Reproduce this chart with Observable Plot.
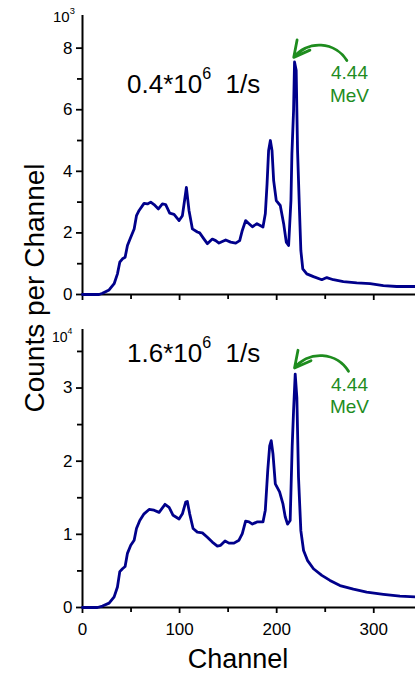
<!DOCTYPE html>
<html><head><meta charset="utf-8">
<script src="https://cdn.jsdelivr.net/npm/d3@7"></script>
<script src="https://cdn.jsdelivr.net/npm/@observablehq/plot@0.6"></script>
<style>
body{margin:0;background:#fff;}
#chart{position:relative;width:415px;height:674px;overflow:hidden;font-family:"Liberation Sans",Arial,sans-serif;}
#chart svg{display:block;}
#overlay{position:absolute;left:0;top:0;pointer-events:none;}
</style></head>
<body><div id="chart"></div>
<script>
// Top panel: 0.4*10^6 1/s
const channelsTop = [0,17,20.6,27.4,32.6,36,38.4,41.2,43.9,46.3,49.7,53.2,55.6,58.3,63.4,66.9,70.3,73.7,78.2,82.3,85.7,89.8,94.3,99.5,102.9,105.6,107,109.7,113.2,118.3,120.7,125.2,128.6,133.7,137.2,140.6,147.5,152.6,157.8,161.9,164.6,168,171.5,175,179.7,185.9,188.3,190.1,191.7,193.5,195.2,196.9,199.6,203.7,207.2,209.9,212.3,214.7,215.7,217.4,218.4,220.1,221.5,223.5,224.9,226.9,231,237.9,246.5,251.6,258.4,268.7,282.5,296.2,309.9,323.6,343];
const countsTop = [0,0,40,150,350,670,1050,1160,1210,1590,1860,2130,2560,2730,2960,2940,3000,2920,2780,2940,2920,2640,2600,2400,2560,3160,3480,2730,2130,2030,2000,1800,1650,1800,1750,1670,1770,1700,1670,1750,2080,2400,2300,2200,2300,2190,2620,3590,4680,5000,4680,3700,3050,2890,2300,1700,1590,3050,4570,5970,7550,7280,4680,2730,1430,830,670,580,480,550,480,420,380,350,290,260,260];
// Bottom panel: 1.6*10^6 1/s
const channelsBottom = [0,15.4,20.6,27.4,32.6,36,38.4,41.2,43.9,46.3,49.7,53.2,55.6,59,63.4,68.6,73.7,78.9,85,89.2,93.3,99.5,102.9,106.3,108,110.4,113.9,118.3,123.5,128.6,133.7,138.9,142.3,146.8,150.9,156,161.2,164.6,168,171.5,175,179.7,185.9,188.3,190.8,192.8,194.4,196.2,198.6,203,206.4,208.8,211.2,213.9,216,217.4,219.1,220.8,222.5,224.9,227.7,231.7,237.9,246.5,254.9,265.2,279,292.7,309.9,327,343];
const countsBottom = [0,0,200,600,1450,2800,4900,5300,5600,7400,8500,9200,10800,11900,12800,13400,13300,13000,14100,13700,12600,12100,12800,14400,14500,12800,10800,10300,10200,9600,8940,8400,8500,9100,8800,8800,9200,10100,11800,11700,11400,11700,11700,13300,18700,22100,22800,21000,16900,15800,14200,12400,11400,11900,22100,26900,31900,28700,17800,10500,7800,6450,5300,4400,3700,3000,2500,2100,1800,1550,1450];
// Axis ticks
const xTicks = [0,100,200,300];
const xMinor = [50,150,250];
const yTicksTop = [0,2000,4000,6000,8000];
const yMinorTop = [1000,3000,5000,7000];
const yTicksBottom = [0,10000,20000,30000];
const yMinorBottom = [5000,15000,25000,35000];
// Annotation: 4.44 MeV peak
const peakLabel = ["4.44","MeV"];

const lineColor = "#00008b";
const green = "#1e8c1e";
const font = "'Liberation Sans', Arial, sans-serif";

function panel({ch, counts, height, mt, mb, ymax, yt, ym, scale, xLabels, arrowFrom, arrowTo, textAt}) {
  const data = ch.map((c,i)=>({c, v: counts[i]}));
  return Plot.plot({
    width: 415, height, marginLeft: 82, marginRight: 0, marginTop: mt, marginBottom: mb,
    x: {domain: [0, 343]},
    y: {domain: [0, ymax]},
    style: {fontFamily: font, fontSize: "17px", color: "#000", background: "#fff", overflow: "visible"},
    marks: [
      Plot.axisX(xTicks, {tickSize: 6, tickPadding: 9, strokeWidth: 1.8, tickFormat: xLabels ? (d => d) : (() => ""), label: null}),
      Plot.axisX(xMinor, {tickSize: 5, strokeWidth: 1.8, tickFormat: () => "", label: null}),
      Plot.axisY(yt, {tickSize: 6, tickPadding: 4, strokeWidth: 1.8, tickFormat: d => d/scale, label: null}),
      Plot.axisY(ym, {tickSize: 5, strokeWidth: 1.8, tickFormat: () => "", label: null}),
      Plot.ruleX([0], {strokeWidth: 2}),
      Plot.ruleY([0], {strokeWidth: 2}),
      Plot.line(data, {x: "c", y: "v", stroke: lineColor, strokeWidth: 2.8, strokeLinejoin: "round"}),
      Plot.arrow([0], {x1: arrowFrom[0], y1: arrowFrom[1], x2: arrowTo[0], y2: arrowTo[1], bend: -55, stroke: green, strokeWidth: 2.8, headLength: 11, headAngle: 55}),
      Plot.text([peakLabel[0]], {x: textAt[0], y: textAt[1], text: d => d, fill: green, fontSize: 19, textAnchor: "middle", lineAnchor: "bottom"}),
      Plot.text([peakLabel[1]], {x: textAt[0], y: textAt[2], text: d => d, fill: green, fontSize: 19, textAnchor: "middle", lineAnchor: "bottom"})
    ]
  });
}

const chart = document.getElementById("chart");
chart.append(panel({ch: channelsTop, counts: countsTop, height: 310, mt: 15, mb: 16, ymax: 9060, yt: yTicksTop, ym: yMinorTop, scale: 1000, xLabels: false,
  arrowFrom: [272.3, 7600], arrowTo: [217.6, 7700], textAt: [275, 7000, 6240]}));
chart.append(panel({ch: channelsBottom, counts: countsBottom, height: 364, mt: 19, mb: 67, ymax: 38000, yt: yTicksBottom, ym: yMinorBottom, scale: 10000, xLabels: true,
  arrowFrom: [274, 32280], arrowTo: [218.4, 32740], textAt: [275, 29650, 26650]}));

// Overlay text: axis titles, units, rates
const svg = d3.select(chart).append("svg").attr("id","overlay").attr("width",415).attr("height",674)
  .style("font-family", font);
svg.append("text").attr("transform","translate(44,288) rotate(-90)").attr("text-anchor","middle")
  .attr("font-size",28).text("Counts per Channel");
svg.append("text").attr("x",238).attr("y",668).attr("text-anchor","middle").attr("font-size",27).text("Channel");
function power(x, y, base, exp, size) {
  const t = svg.append("text").attr("x",x).attr("y",y).attr("font-size",size);
  t.append("tspan").text(base);
  t.append("tspan").attr("font-size", size*0.62).attr("dy", -size*0.55).text(exp);
  return t;
}
power(53, 22, "10", "3", 15);
power(52, 342, "10", "4", 14);
const r1 = power(127, 93, "0.4*10", "6", 26); r1.append("tspan").attr("dy", 26*0.55).text("\u00a0\u00a01/s");
const r2 = power(127, 362, "1.6*10", "6", 26); r2.append("tspan").attr("dy", 26*0.55).text("\u00a0\u00a01/s");
</script></body></html>
